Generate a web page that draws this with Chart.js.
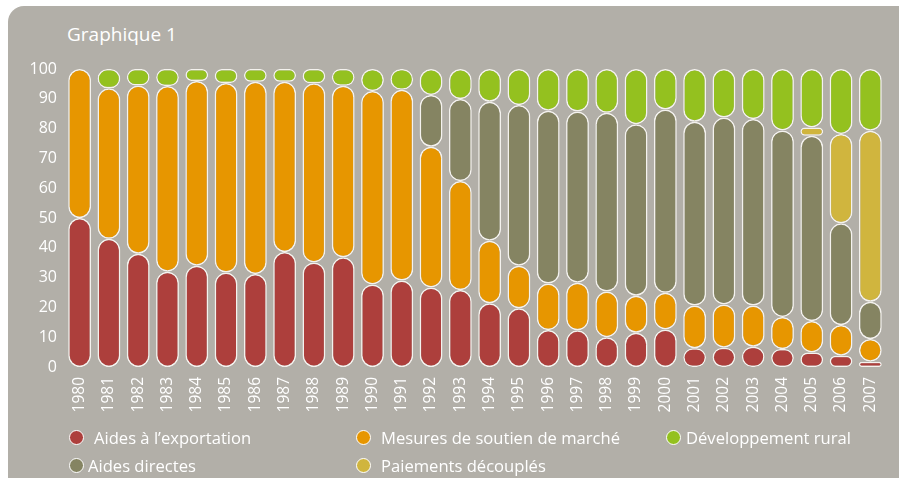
<!DOCTYPE html>
<html>
<head>
<meta charset="utf-8">
<script src="https://cdn.jsdelivr.net/npm/chart.js@4/dist/chart.umd.min.js"></script>
<style>
  html, body { margin: 0; padding: 0; background: #ffffff; }
  #wrap { position: relative; width: 899px; height: 478px; overflow: hidden; }
  #panel { position: absolute; left: 8px; top: 6px; width: 891px; height: 472px;
           background: #b2afa8; border-top-left-radius: 16px; }
  #title { position: absolute; left: 67px; top: 21px; color: #ffffff;
           font-family: "Open Sans", sans-serif; font-size: 19px; }
  canvas { position: absolute; left: 0; top: 0; }
  .leg { position: absolute; color: #ffffff; font-family: "Open Sans", sans-serif;
         font-size: 16.6px; display: flex; align-items: center; white-space: nowrap; }
  .dot { width: 13px; height: 13px; border-radius: 50%; border: 1.5px solid #ffffff;
         margin-right: 8px; box-sizing: content-box; }
</style>
</head>
<body>
<div id="wrap">
  <div id="panel"></div>
  <div id="title">Graphique 1</div>
  <canvas id="c" width="899" height="478"></canvas>
  <div id="legend"></div>
</div>
<script>
const years = ["1980","1981","1982","1983","1984","1985","1986","1987","1988","1989",
  "1990","1991","1992","1993","1994","1995","1996","1997","1998","1999",
  "2000","2001","2002","2003","2004","2005","2006","2007"];

const aidesExportation = [50, 43, 38, 32, 34, 31.7, 31.2, 38.6, 35.1, 36.8,
  27.7, 29, 26.7, 25.8, 21.4, 19.7, 12.4, 12.3, 10, 11.5,
  12.6, 6.3, 6.5, 6.8, 6, 4.9, 3.8, 1.8];
const mesuresSoutien = [50, 50.5, 56.5, 62.3, 62, 63.6, 64.5, 57.1, 60.1, 57.6,
  64.9, 64, 47.2, 36.6, 21, 14.3, 15.6, 16, 15.3, 12.4,
  12.3, 14.3, 14.5, 13.8, 10.8, 10.5, 10.3, 7.6];
const aidesDirectes = [null, null, null, null, null, null, null, null, null, null,
  null, null, 17.4, 27.5, 46.6, 53.9, 58, 57.4, 60, 57.6,
  61.5, 61.7, 62.7, 62.6, 62.6, 62.2, 34.1, 12.5];
const paiementsDecouples = [null, null, null, null, null, null, null, null, null, null,
  null, null, null, null, null, null, null, null, null, null,
  null, null, null, null, null, 2.8, 30, 57.4];
const developpementRural = [null, 6.5, 5.5, 5.7, 4, 4.7, 4.3, 4.3, 4.8, 5.6,
  7.4, 7, 8.7, 10.1, 11, 12.1, 14, 14.3, 14.7, 18.5,
  13.6, 17.7, 16.3, 16.8, 20.6, 19.6, 21.8, 20.7];

const yTicks = [0, 10, 20, 30, 40, 50, 60, 70, 80, 90, 100];

const series = [
  { label: "Aides à l’exportation", data: aidesExportation, color: "#ad3f3c" },
  { label: "Mesures de soutien de marché", data: mesuresSoutien, color: "#e79600" },
  { label: "Aides directes", data: aidesDirectes, color: "#858462" },
  { label: "Paiements découplés", data: paiementsDecouples, color: "#d0b53e" },
  { label: "Développement rural", data: developpementRural, color: "#94c11f" }
];

const R = 12;
const datasets = series.map(s => ({
  label: s.label,
  data: s.data,
  backgroundColor: s.color,
  borderColor: "#f4f2ee",
  borderWidth: 1.5,
  borderSkipped: false,
  borderRadius: { topLeft: R, topRight: R, bottomLeft: R, bottomRight: R },
  barPercentage: 0.78,
  categoryPercentage: 1,
  clip: false
}));

new Chart(document.getElementById("c"), {
  type: "bar",
  data: { labels: years, datasets: datasets },
  options: {
    responsive: false,
    animation: false,
    layout: { padding: { left: 0, right: 3, top: 69, bottom: 61 } },
    plugins: { legend: { display: false }, tooltip: { enabled: false }, title: { display: false } },
    scales: {
      x: {
        stacked: true,
        grid: { display: false, drawTicks: false },
        border: { display: false },
        ticks: { color: "#ffffff", font: { family: "Open Sans", size: 15.5 },
                 minRotation: 90, maxRotation: 90, padding: 10, autoSkip: false },
        afterFit: (s) => { s.height = 50; }
      },
      y: {
        stacked: true,
        min: 0, max: 100,
        afterBuildTicks: (s) => { s.ticks = yTicks.map(v => ({ value: v })); },
        grid: { display: false, drawTicks: false },
        border: { display: false },
        ticks: { color: "#ffffff", font: { family: "Open Sans", size: 16 }, padding: 8 },
        afterFit: (s) => { s.width = 65; }
      }
    }
  }
});

// HTML legend, laid out like the reference (two rows, three columns)
const legendLayout = [
  { idx: 0, left: 69, top: 426, gap: 10 },
  { idx: 1, left: 356, top: 426, gap: 10 },
  { idx: 4, left: 666, top: 426, gap: 5 },
  { idx: 2, left: 69, top: 454, gap: 4 },
  { idx: 3, left: 356, top: 454, gap: 10 }
];
const legend = document.getElementById("legend");
legendLayout.forEach(p => {
  const s = series[p.idx];
  const item = document.createElement("div");
  item.className = "leg";
  item.style.left = p.left + "px";
  item.style.top = p.top + "px";
  const dot = document.createElement("span");
  dot.className = "dot";
  dot.style.background = s.color;
  dot.style.marginRight = p.gap + "px";
  const txt = document.createElement("span");
  txt.textContent = s.label;
  item.appendChild(dot);
  item.appendChild(txt);
  legend.appendChild(item);
});
</script>
</body>
</html>
